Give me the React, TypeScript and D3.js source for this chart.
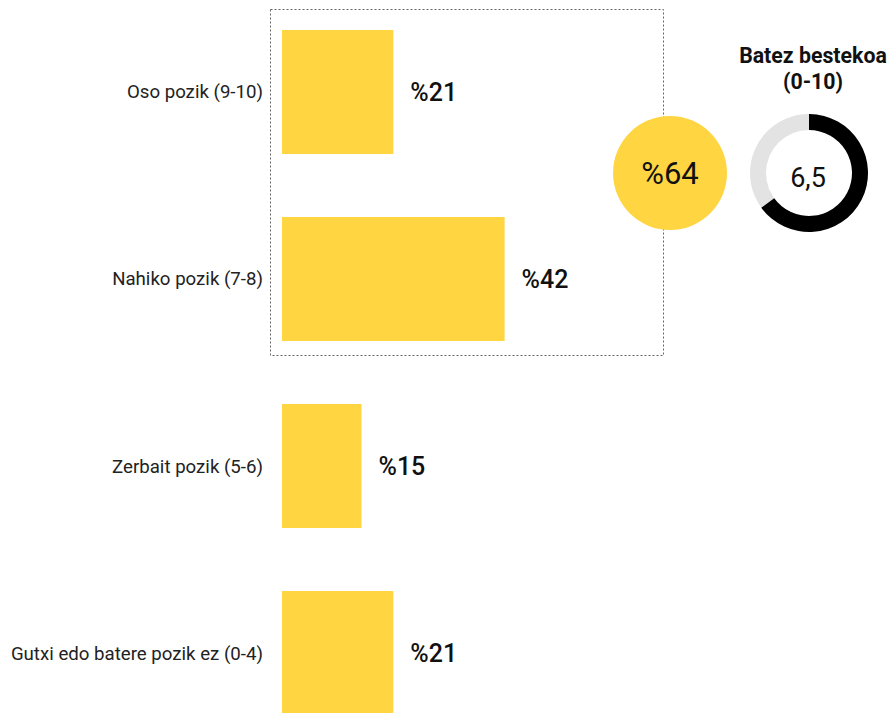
import React from "react";
import * as d3 from "d3";

const categories = [
  "Oso pozik (9-10)",
  "Nahiko pozik (7-8)",
  "Zerbait pozik (5-6)",
  "Gutxi edo batere pozik ez (0-4)",
];
const values = [21, 42, 15, 21];
const groupTotal = 64;
const averageValue = 6.5;
const averageMax = 10;
const averageTitle = ["Batez bestekoa", "(0-10)"];

const W = 890;
const H = 713;
const YELLOW = "#FFD542";
const FONT = "Roboto, 'Noto Sans', sans-serif";

export default function App() {
  const x = d3.scaleLinear().domain([0, 100]).range([282, 812]);
  const y = d3
    .scaleBand<string>()
    .domain(categories)
    .range([30, 715])
    .paddingInner(0.337)
    .paddingOuter(0);
  const bw = y.bandwidth();

  const arc = d3.arc<any>().innerRadius(43).outerRadius(59);
  const donutCx = 809;
  const donutCy = 173;
  const endA = (averageValue / averageMax) * 2 * Math.PI;
  const bgPath = arc({ startAngle: 0, endAngle: 2 * Math.PI }) as string;
  const fgPath = arc({ startAngle: 0, endAngle: endA }) as string;

  return (
    <svg
      width={W}
      height={H}
      style={{ position: "absolute", left: 0, top: 0, display: "block" }}
      fontFamily={FONT}
    >
      <rect x={0} y={0} width={W} height={H} fill="#fff" />
      <rect
        x={270.5}
        y={9.5}
        width={393}
        height={346}
        fill="none"
        stroke="#666"
        strokeWidth={1}
        strokeDasharray="2,2"
      />
      {categories.map((c, i) => {
        const yy = y(c)!;
        const cy = yy + bw / 2;
        return (
          <g key={c}>
            <rect x={x(0)} y={yy} width={x(values[i]) - x(0)} height={bw} fill={YELLOW} />
            <text x={263} y={cy + 6.5} textAnchor="end" fontSize={18.67} fill="#222">
              {c}
            </text>
            <text
              x={x(values[i]) + 17}
              y={cy + 9}
              fontSize={25}
              fontWeight={500}
              fill="#111"
            >
              {"%" + values[i]}
            </text>
          </g>
        );
      })}
      <circle cx={670} cy={173} r={57} fill={YELLOW} />
      <text x={670} y={184} textAnchor="middle" fontSize={31} fill="#111">
        {"%" + groupTotal}
      </text>
      <g transform={`translate(${donutCx},${donutCy})`}>
        <path d={bgPath} fill="#E3E3E3" />
        <path d={fgPath} fill="#000" />
        <text x={-1} y={14} textAnchor="middle" fontSize={27} fill="#111">
          {String(averageValue).replace(".", ",")}
        </text>
      </g>
      <text x={813} y={63} textAnchor="middle" fontSize={21.3} fontWeight={700} fill="#111">
        {averageTitle[0]}
      </text>
      <text x={813} y={89} textAnchor="middle" fontSize={21.3} fontWeight={700} fill="#111">
        {averageTitle[1]}
      </text>
    </svg>
  );
}
